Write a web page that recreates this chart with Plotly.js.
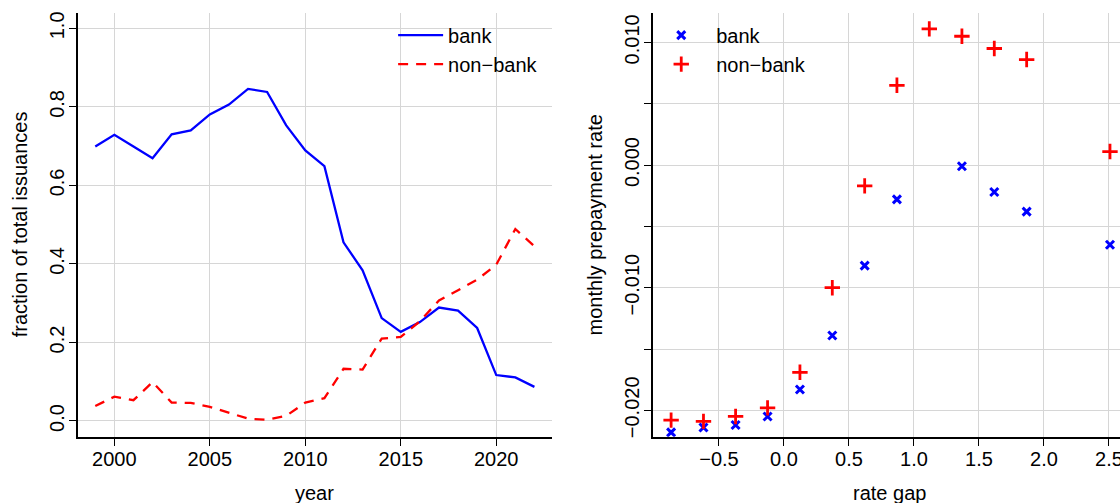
<!DOCTYPE html>
<html>
<head>
<meta charset="utf-8">
<script src="https://cdn.plot.ly/plotly-3.0.1.min.js"></script>
<style>
  html, body {margin:0; padding:0; background:#fff;}
  #chart {width:1120px; height:503px;}
</style>
</head>
<body>
<div id="chart"></div>
<script>

// left panel: share of issuances by year
var years = [1999,2000,2001,2002,2003,2004,2005,2006,2007,2008,2009,2010,
             2011,2012,2013,2014,2015,2016,2017,2018,2019,2020,2021,2022]
var bankShare = [0.699,0.729,0.699,0.669,0.730,0.740,0.781,0.806,0.846,0.838,0.753,0.689,
                 0.649,0.455,0.384,0.262,0.227,0.252,0.289,0.281,0.237,0.117,0.111,0.087]
var nonbankShare = [0.038,0.062,0.053,0.099,0.047,0.046,0.036,0.021,0.006,0.003,0.013,0.047,
                    0.058,0.133,0.131,0.210,0.214,0.254,0.307,0.333,0.360,0.398,0.489,0.445]

// right panel: prepayment rate against rate gap
var gapBank = [-0.868,-0.619,-0.372,-0.126,0.123,0.372,0.621,0.869,1.369,1.618,1.867,2.508]
var prepayBank = [-0.0218,-0.0214,-0.0212,-0.0205,-0.0183,-0.0139,-0.0082,-0.0028,
                  -0.0001,-0.0022,-0.0038,-0.0065]
var gapNonbank = [-0.868,-0.619,-0.372,-0.126,0.123,0.372,0.621,0.869,1.118,1.369,1.618,1.867,2.508]
var prepayNonbank = [-0.0208,-0.0209,-0.0205,-0.0198,-0.0169,-0.0100,-0.0017,0.0065,
                     0.0111,0.0105,0.0095,0.0086,0.0011]

var yearTicks = [2000,2005,2010,2015,2020]
var shareTicks = [0,0.2,0.4,0.6,0.8,1.0]
var shareLabels = ['0.0','0.2','0.4','0.6','0.8','1.0']
var gapTicks = [-0.5,0,0.5,1.0,1.5,2.0,2.5]
var gapLabels = ['\u22120.5','0.0','0.5','1.0','1.5','2.0','2.5']
var rateTicks = [-0.020,-0.015,-0.010,-0.005,0,0.005,0.010]
var rateLabels = ['\u22120.020','','\u22120.010','','0.000','','0.010']

var BLUE = '#0000ff'
var RED = '#ff0000'
var FONT = 'Liberation Sans, Arial, Helvetica, sans-serif'

var traces = [
    {
        x: years, y: bankShare, name: 'bank',
        type: 'scatter', mode: 'lines',
        line: {color: BLUE, width: 2.3},
        xaxis: 'x', yaxis: 'y', legend: 'legend',
    },
    {
        x: years, y: nonbankShare, name: 'non\u2212bank',
        type: 'scatter', mode: 'lines',
        line: {color: RED, width: 2.3, dash: '10px,8px'},
        xaxis: 'x', yaxis: 'y', legend: 'legend',
    },
    {
        x: gapBank, y: prepayBank, name: 'bank',
        type: 'scatter', mode: 'markers',
        marker: {symbol: 'x-thin', size: 8, color: BLUE, line: {color: BLUE, width: 3}},
        xaxis: 'x2', yaxis: 'y2', legend: 'legend2',
    },
    {
        x: gapNonbank, y: prepayNonbank, name: 'non\u2212bank',
        type: 'scatter', mode: 'markers',
        marker: {symbol: 'cross-thin', size: 11, color: RED, line: {color: RED, width: 2.8}},
        xaxis: 'x2', yaxis: 'y2', legend: 'legend2',
    },
]

var axisStyle = {
    showline: true, linecolor: '#000', linewidth: 2,
    ticks: 'outside', ticklen: 7, tickwidth: 1, tickcolor: '#000',
    showgrid: true, gridcolor: '#d6d6d6', gridwidth: 1,
    zeroline: false, fixedrange: true,
    ticklabeloverflow: 'allow',
    tickfont: {family: FONT, size: 20, color: '#000'},
}

function ax (extra) { return Object.assign({}, axisStyle, extra) }

var layout = {
    width: 1120, height: 503,
    margin: {l: 0, r: 0, t: 0, b: 0},
    paper_bgcolor: '#fff', plot_bgcolor: '#fff',
    font: {family: FONT, size: 20, color: '#000'},
    xaxis: ax({domain: [0.06938, 0.49286], range: [1998.08, 2022.92],
               tickmode: 'array', tickvals: yearTicks, ticklabelstandoff: -4, anchor: 'y'}),
    yaxis: ax({domain: [0.1318, 0.9748], range: [-0.04, 1.04],
               tickmode: 'array', tickvals: shareTicks, ticktext: shareLabels,
               tickangle: -90, ticklabelstandoff: -3, anchor: 'x'}),
    xaxis2: ax({domain: [0.5833, 1], range: [-1.005, 2.585],
                tickmode: 'array', tickvals: gapTicks, ticktext: gapLabels,
                ticklabelstandoff: -4, anchor: 'y2'}),
    yaxis2: ax({domain: [0.1318, 0.9748], range: [-0.02215, 0.01242],
                tickmode: 'array', tickvals: rateTicks, ticktext: rateLabels,
                tickangle: -90, ticklabelstandoff: -3, anchor: 'x2'}),
    legend: {
        x: 0.351, y: 0.969, xanchor: 'left', yanchor: 'top',
        bgcolor: 'rgba(0,0,0,0)', font: {family: FONT, size: 20},
        itemwidth: 45, tracegroupgap: 0,
    },
    legend2: {
        x: 0.577, y: 0.969, xanchor: 'left', yanchor: 'top',
        bgcolor: 'rgba(0,0,0,0)', font: {family: FONT, size: 20},
        itemwidth: 60, tracegroupgap: 0,
    },
    annotations: [
        {text: 'year', xref: 'paper', yref: 'paper', x: 0.2811, y: 0.02,
         xanchor: 'center', yanchor: 'middle', showarrow: false, font: {size: 20}},
        {text: 'rate gap', xref: 'paper', yref: 'paper', x: 0.7946, y: 0.02,
         xanchor: 'center', yanchor: 'middle', showarrow: false, font: {size: 20}},
        {text: 'fraction of total issuances', xref: 'paper', yref: 'paper', x: 0.0175, y: 0.5533,
         textangle: -90, xanchor: 'center', yanchor: 'middle', showarrow: false, font: {size: 20}},
        {text: 'monthly prepayment rate', xref: 'paper', yref: 'paper', x: 0.531, y: 0.5533,
         textangle: -90, xanchor: 'center', yanchor: 'middle', showarrow: false, font: {size: 20}},
    ],
    showlegend: true,
}

Plotly.newPlot('chart', traces, layout, {displayModeBar: false, staticPlot: true})

</script>
</body>
</html>
